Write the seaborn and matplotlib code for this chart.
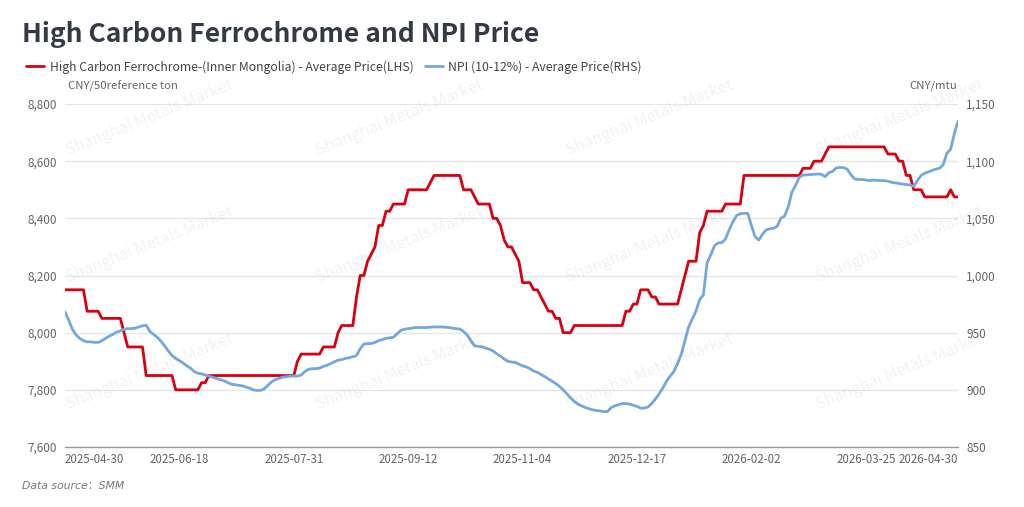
import numpy as np
import pandas as pd
import matplotlib
matplotlib.use("Agg")
import matplotlib.pyplot as plt
from matplotlib.lines import Line2D
import seaborn as sns

# ---- data (trading days, SMM daily average prices) ----
START, END = "2025-04-30", "2026-04-30"
HOLIDAYS = [
    "2025-05-01", "2025-05-02", "2025-05-05", "2025-06-02",
    "2025-10-01", "2025-10-02", "2025-10-03", "2025-10-06", "2025-10-07", "2025-10-08",
    "2026-01-01", "2026-01-02",
    "2026-02-16", "2026-02-17", "2026-02-18", "2026-02-19", "2026-02-20", "2026-02-23",
    "2026-04-06",
]
TICK_DATES = ["2025-04-30", "2025-06-18", "2025-07-31", "2025-09-12", "2025-11-04",
              "2025-12-17", "2026-02-02", "2026-03-25", "2026-04-30"]

# High carbon ferrochrome, Inner Mongolia (CNY/50 reference ton)
ferrochrome = (
    [8150] * 6 + [8075] * 4 + [8050] * 6 + [8000] + [7950] * 5 + [7850] * 8
    + [7800] * 7 + [7825] * 2 + [7850] * 24 + [7900] + [7925] * 6 + [7950] * 4
    + [8000] + [8025] * 4 + [8125] + [8200] * 2 + [8250, 8275, 8300]
    + [8375] * 2 + [8425] * 2 + [8450] * 4 + [8500] * 6 + [8525] + [8550] * 8
    + [8500] * 3 + [8475] + [8450] * 4 + [8400] * 2 + [8375, 8325] + [8300] * 2
    + [8275, 8250] + [8175] * 3 + [8150] * 2 + [8125, 8100] + [8075] * 2
    + [8050] * 2 + [8000] * 3 + [8025] * 14 + [8075] * 2 + [8100] * 2
    + [8150] * 3 + [8125] * 2 + [8100] * 6 + [8150, 8200] + [8250] * 3
    + [8350, 8375] + [8425] * 5 + [8450] * 5 + [8550] * 16 + [8575] * 3
    + [8600] * 3 + [8625] + [8650] * 16 + [8625] * 3 + [8600] * 2 + [8550] * 2
    + [8500] * 3 + [8475] * 7 + [8500] + [8475] * 2
)

# NPI 10-12% (CNY/mtu)
npi = [
    968, 961, 953, 948, 945, 943, 942, 942, 941.5, 941.5,
    943, 945, 947, 948.5, 950.5, 951.5, 953, 953.5, 953.5, 954,
    955, 956, 956.5, 951, 948.5, 946, 942.5, 938.5, 934, 930,
    927.5, 925.5, 923.5, 921, 919, 916, 914.5, 914, 913, 912,
    911, 910, 909, 908, 906.5, 905, 904.5, 904, 903.5, 902.5,
    901.5, 900, 899.5, 899.5, 901, 904, 907, 909, 910, 911,
    911.5, 912, 912, 912, 913, 916, 918, 918.5, 918.5, 919,
    920.5, 921.5, 923, 924.5, 926, 926.5, 927.5, 928, 929, 930,
    936, 940, 940.5, 940.5, 941.5, 943, 944, 945, 945.5, 946,
    949, 952, 953, 953.5, 954, 954.5, 954.5, 954.5, 954.5, 954.8,
    955, 955, 955, 954.8, 954.5, 954, 953.5, 953.2, 951, 948,
    943, 938.5, 938, 937.7, 936.5, 935.5, 934, 931.5, 929.5, 927,
    925, 924.3, 924, 922.5, 921, 920, 918.5, 916.5, 915.3, 913.5,
    911.5, 909.5, 907.5, 905.5, 903, 900, 896.5, 893, 890, 887.5,
    886, 884.5, 883.5, 882.5, 882, 881.5, 881, 881, 884.5, 886,
    887, 888, 888, 887.5, 886.5, 885.5, 884, 884, 885, 888,
    892, 896.5, 901.5, 907.5, 912, 916, 923, 931, 943, 955,
    962, 969, 979, 983, 1011, 1018, 1026, 1028.5, 1028.7, 1032,
    1040, 1047, 1052.5, 1054, 1054.4, 1054.4, 1044, 1034, 1031, 1036,
    1040, 1040.8, 1041.3, 1043, 1050, 1052, 1060, 1073, 1079, 1086,
    1087.8, 1088, 1088.3, 1088.5, 1088.8, 1088.5, 1086.4, 1089.9, 1091, 1094,
    1094.6, 1094.3, 1093, 1088, 1084.5, 1084, 1084, 1083.5, 1083, 1083.5,
    1083.2, 1083, 1083, 1082.5, 1081.5, 1081, 1080.5, 1080, 1079.5, 1079.2,
    1078, 1083, 1087.5, 1089.5, 1090.5, 1092, 1093, 1093.8, 1097, 1107,
    1110.4, 1124, 1135,
]

days = pd.bdate_range(START, END)
days = days[~days.isin(pd.to_datetime(HOLIDAYS))]
df = pd.DataFrame({
    "date": days.strftime("%Y-%m-%d"),
    "pos": np.arange(len(days)),
    "ferrochrome": ferrochrome,
    "npi": npi,
})

RED = "#d9000f"
BLUE = "#73a7de"
GRID = "#e6e6e6"
TXT = "#666666"

sns.set_theme(style="white")
plt.rcParams["font.family"] = ["Noto Sans CJK SC", "DejaVu Sans"]

fig = plt.figure(figsize=(10.24, 5.07), dpi=100)
ax = fig.add_axes([65 / 1024, 1 - 447 / 507, (958 - 65) / 1024, (447 - 104) / 507])
ax2 = ax.twinx()

sns.lineplot(data=df, x="pos", y="ferrochrome", ax=ax, color=RED, linewidth=2.0)
sns.lineplot(data=df, x="pos", y="npi", ax=ax2, color=BLUE, linewidth=2.0)

ax.set_xlim(0, len(df) - 1)
ax.set_ylim(7600, 8800)
ax.set_yticks(np.arange(7600, 8801, 200))
ax.set_yticklabels([f"{v:,}" for v in range(7600, 8801, 200)])
ax2.set_ylim(850, 1150)
ax2.set_yticks(np.arange(850, 1151, 50))
ax2.set_yticklabels([f"{v:,}" for v in range(850, 1151, 50)])

ax.grid(axis="y", color=GRID, linewidth=1.0)
ax.set_axisbelow(True)
for a in (ax, ax2):
    for s in a.spines.values():
        s.set_visible(False)
    a.set_xlabel("")
    a.set_ylabel("")
    a.tick_params(length=0, labelsize=8.5, colors=TXT, pad=6)
ax.spines["bottom"].set_visible(True)
ax.spines["bottom"].set_color("#999999")
ax.spines["bottom"].set_linewidth(1.0)

tick_pos = df.set_index("date").loc[TICK_DATES, "pos"].values
ax.set_xticks(tick_pos)
ax.set_xticklabels(TICK_DATES)
ax.tick_params(axis="x", pad=4, labelsize=8.3)
labels = ax.get_xticklabels()
labels[0].set_horizontalalignment("left")
labels[-1].set_horizontalalignment("right")

# watermark
for yc in [118, 245, 372]:
    for xc in [150, 400, 650, 900]:
        fig.text(xc / 1024, 1 - yc / 507, "Shanghai Metals Market", rotation=22,
                 ha="center", va="center", fontsize=11.5, color="#000000",
                 alpha=0.05, zorder=0)

fig.text(22 / 1024, 1 - 35 / 507, "High Carbon Ferrochrome and NPI Price",
         fontsize=19, fontweight="bold", color="#333a45", va="center", ha="left")

handles = [
    Line2D([], [], color=RED, linewidth=2.0),
    Line2D([], [], color=BLUE, linewidth=2.0),
]
fig.legend(handles,
           ["High Carbon Ferrochrome-(Inner Mongolia) - Average Price(LHS)",
            "NPI (10-12%) - Average Price(RHS)"],
           loc="center left", bbox_to_anchor=(15 / 1024, 1 - 67 / 507), ncol=2,
           frameon=False, fontsize=8.8, handlelength=1.5, handletextpad=0.45,
           columnspacing=0.9, labelcolor="#444444")

fig.text(68 / 1024, 1 - 86 / 507, "CNY/50reference ton", fontsize=8.2,
         color=TXT, va="center", ha="left")
fig.text(957 / 1024, 1 - 86 / 507, "CNY/mtu", fontsize=8.2,
         color=TXT, va="center", ha="right")
fig.text(22 / 1024, 1 - 486 / 507, "Data source：SMM", fontsize=7.8,
         color="#777777", style="italic", va="center", ha="left",
         family=["DejaVu Sans", "Noto Sans CJK SC"])

fig.savefig("out.png", dpi=100, facecolor="white")
